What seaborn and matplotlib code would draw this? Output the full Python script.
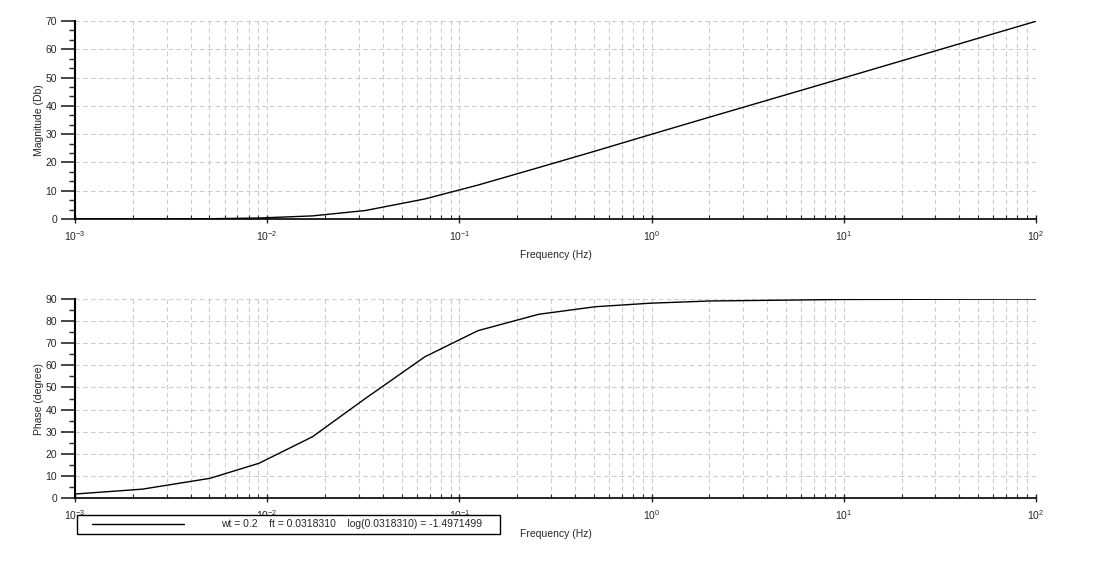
import numpy as np
import pandas as pd
import matplotlib
matplotlib.use('Agg')
import matplotlib.pyplot as plt
import matplotlib.ticker as mticker
import matplotlib.transforms as mtransforms
from matplotlib.lines import Line2D
from matplotlib.legend_handler import HandlerLine2D
import seaborn as sns

# Bode data (frequency in Hz)
freq_hz = [0.001, 0.00224, 0.00504, 0.00906, 0.0172, 0.0324, 0.0662,
           0.125, 0.259, 0.508, 0.982, 2.0, 10.0, 100.0]
magnitude_db = [0.0, 0.02, 0.1, 0.35, 1.1, 3.0, 7.1,
                12.0, 18.2, 24.0, 29.8, 36.0, 49.9, 69.9]
phase_deg = [1.8, 4.0, 8.9, 15.7, 27.7, 45.0, 63.9,
             75.7, 83.1, 86.5, 88.1, 89.1, 89.8, 90.0]

x_ticks = [1e-3, 1e-2, 1e-1, 1e0, 1e1, 1e2]
x_tick_labels = ['$10^{-3}$', '$10^{-2}$', '$10^{-1}$', '$10^{0}$', '$10^{1}$', '$10^{2}$']
legend_text = 'wt = 0.2    ft = 0.0318310    log(0.0318310) = -1.4971499'

df = pd.DataFrame({'freq': freq_hz, 'mag': magnitude_db, 'phase': phase_deg})

sns.set_style('white')
plt.rcParams['font.family'] = ['Liberation Sans', 'DejaVu Sans']
plt.rcParams['mathtext.default'] = 'regular'

fig = plt.figure(figsize=(11, 5.61), dpi=100)
ax1 = fig.add_axes([0.0682, 0.6096, 0.8736, 0.353])
ax2 = fig.add_axes([0.0682, 0.1123, 0.8736, 0.3547])

# shift the "10^n" labels so the exponent sits over the tick, like Scilab
label_shift = mtransforms.ScaledTranslation(-4 / 100, -2 / 100, fig.dpi_scale_trans)

panels = [(ax1, 'mag', 'Magnitude (Db)', 70, 3), (ax2, 'phase', 'Phase (degree)', 90, 2)]
for ax, col, ylab, ymax, nminor in panels:
    sns.lineplot(data=df, x='freq', y=col, ax=ax, color='black', linewidth=1.0)
    ax.set_xscale('log')
    ax.set_xlim(1e-3, 1e2)
    ax.set_ylim(0, ymax)
    ax.set_yticks(np.arange(0, ymax + 1, 10))
    ax.yaxis.set_minor_locator(mticker.AutoMinorLocator(nminor))
    ax.set_xticks(x_ticks)
    ax.set_xticklabels(x_tick_labels)
    ax.xaxis.set_minor_locator(mticker.LogLocator(base=10, subs=np.arange(2, 10)))
    ax.xaxis.set_minor_formatter(mticker.NullFormatter())
    for lbl in ax.get_xticklabels():
        lbl.set_transform(lbl.get_transform() + label_shift)

    ax.grid(True, which='major', axis='both', color='#cccccc', linestyle=(0, (4, 3)), linewidth=0.8)
    ax.grid(True, which='minor', axis='x', color='#cccccc', linestyle=(0, (4, 3)), linewidth=0.8)
    ax.set_axisbelow(True)

    for side in ['top', 'right']:
        ax.spines[side].set_visible(False)
    ax.spines['left'].set_linewidth(1.5)
    ax.spines['bottom'].set_linewidth(1.2)
    ax.spines['left'].set_color('black')
    ax.spines['bottom'].set_color('black')

    ax.tick_params(axis='y', which='major', direction='out', length=10, width=1.2,
                   labelsize=7.5, pad=3, left=True)
    ax.tick_params(axis='y', which='minor', direction='out', length=4, width=1.0, left=True)
    ax.tick_params(axis='x', which='major', direction='inout', length=6, width=1.0,
                   labelsize=7.5, pad=4, bottom=True)
    ax.tick_params(axis='x', which='minor', direction='in', length=3, width=0.8, bottom=True)

    ax.set_ylabel(ylab, fontsize=7.5, labelpad=1)
    ax.set_xlabel('Frequency (Hz)', fontsize=7.5, labelpad=5.5)

handle = Line2D([], [], color='black', linewidth=1.0)
leg = fig.legend([handle], [legend_text], loc='lower left',
                 bbox_to_anchor=(77 / 1100, 1 - 534 / 561, 423 / 1100, 19 / 561),
                 mode='expand', fontsize=7.5,
                 handler_map={Line2D: HandlerLine2D(xpad=0.95)},
                 handlelength=9.85, handletextpad=3.5, borderpad=0.45,
                 borderaxespad=0, fancybox=False, framealpha=1)
leg.get_frame().set_edgecolor('black')
leg.get_frame().set_linewidth(1.0)

fig.savefig('out.png', dpi=100, facecolor='white')
plt.close('all')
